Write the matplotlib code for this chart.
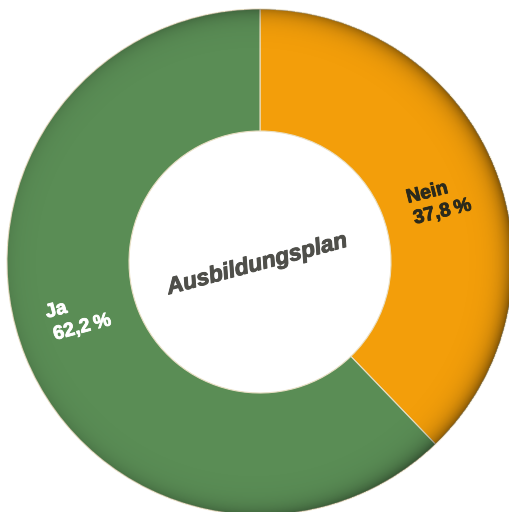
import matplotlib
matplotlib.use("Agg")
import numpy as np
import matplotlib.pyplot as plt
from matplotlib.patches import Wedge
import matplotlib.patheffects as pe

categories = ["Nein", "Ja"]
values = [37.8, 62.2]
value_labels = ["37,8\u2009%", "62,2\u2009%"]
center_title = "Ausbildungsplan"
colors = ["#F39E0A", "#5A8D55"]

W, H = 509, 512
fig = plt.figure(figsize=(W / 100, H / 100), dpi=100)
ax = fig.add_axes([0, 0, 1, 1])
ax.axis("off")

cx, cy = 260, 262
R, r_in = 253, 131

wedges, _ = ax.pie(values, colors=colors, radius=R, center=(cx, cy), startangle=-90,
                   counterclock=True, wedgeprops=dict(width=R - r_in, edgecolor="#e9dfc4", linewidth=0.8))
ax.set_xlim(0, W)
ax.set_ylim(H, 0)
ax.set_aspect("auto")

# outer rim shading (stronger on the right)
xs = np.arange(W) + 0.5
ys = np.arange(H) + 0.5
X, Y = np.meshgrid(xs, ys)
dist = np.hypot(X - cx, Y - cy)
phi = np.arctan2(-(Y - cy), X - cx)
d = R - dist
amp = 0.30 + 0.20 * np.cos(phi)
alpha = np.where(d >= 0, amp * np.exp(-np.clip(d, 0, None) / 9.0), 0.0)
alpha = np.clip(alpha, 0, 1)
rgba = np.zeros((H, W, 4))
rgba[..., 3] = alpha
im = ax.imshow(rgba, extent=(0, W, H, 0), interpolation="bilinear", zorder=3)
clip = Wedge((cx, cy), R, 0, 360, width=R - r_in, transform=ax.transData)
im.set_clip_path(clip)
ax.set_xlim(0, W)
ax.set_ylim(H, 0)
ax.set_aspect("auto")

fam = ["Liberation Sans", "DejaVu Sans"]
ax.text(257, 264, center_title, rotation=15, ha="center", va="center",
        fontsize=16.5, fontweight="bold", fontstyle="italic", color="#4f4f4a", family=fam,
        rotation_mode="anchor", zorder=5,
        path_effects=[pe.withStroke(linewidth=0.7, foreground="#4f4f4a")])

dark = "#2b2a1c"
eff_d = [pe.withStroke(linewidth=0.6, foreground=dark)]
eff_w = [pe.withStroke(linewidth=0.6, foreground="white")]
ax.text(408, 203, categories[0], rotation=14, ha="left", va="baseline", fontsize=14,
        fontweight="bold", color=dark, family=fam, rotation_mode="anchor", zorder=5, path_effects=eff_d)
ax.text(415, 224, value_labels[0], rotation=14, ha="left", va="baseline", fontsize=14,
        fontweight="bold", color=dark, family=fam, rotation_mode="anchor", zorder=5, path_effects=eff_d)
ax.text(47, 318, categories[1], rotation=15, ha="left", va="baseline", fontsize=14,
        fontweight="bold", color="white", family=fam, rotation_mode="anchor", zorder=5, path_effects=eff_w)
ax.text(55, 340, value_labels[1], rotation=15, ha="left", va="baseline", fontsize=14,
        fontweight="bold", color="white", family=fam, rotation_mode="anchor", zorder=5, path_effects=eff_w)

fig.savefig("out.png", dpi=100)
